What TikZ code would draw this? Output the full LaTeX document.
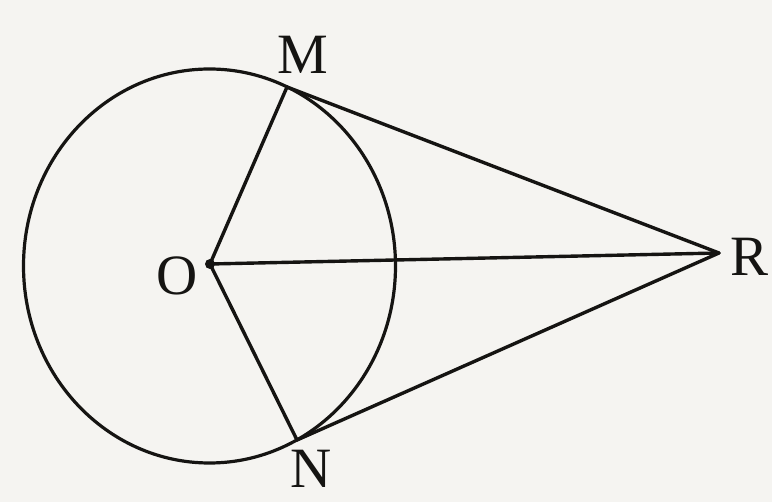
\documentclass[tikz,border=0pt]{standalone}
\usepackage{fontspec}
\setmainfont{Liberation Serif}
\definecolor{bg}{HTML}{F5F4F1}
\definecolor{ink}{HTML}{151412}
\begin{document}
\begin{tikzpicture}[x=1pt,y=-1pt,
  seg/.style={draw=ink,line width=3.4pt,line cap=round},
  lbl/.style={text=ink,font=\fontsize{57}{57}\selectfont,inner sep=0pt}]
\fill[bg] (0,0) rectangle (772,502);
\useasboundingbox (0,0) rectangle (772,502);
\coordinate (O) at (210,264);
\coordinate (M) at (287,87);
\coordinate (N) at (297,440);
\coordinate (R) at (719,253);
\draw[seg,line width=3.2pt] (209.5,266) ellipse [x radius=186, y radius=197];
\draw[seg] (O) -- (M);
\draw[seg] (O) -- (N);
\draw[seg] (O) -- (R);
\draw[seg] (M) -- (R);
\draw[seg] (N) -- (R);
\fill[ink] (O) circle (5);
\node[lbl] (lM) at (303,55) {M};
\node[lbl] (lN) at (311,469) {N};
\node[lbl] (lO) at (177,276) {O};
\node[lbl] (lR) at (750,257) {R};
\end{tikzpicture}
\end{document}
